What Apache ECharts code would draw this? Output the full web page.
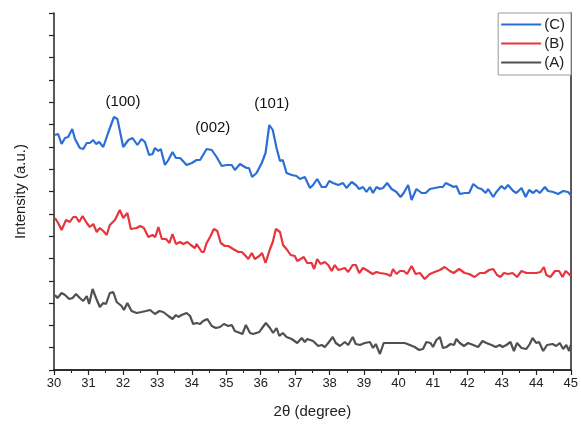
<!DOCTYPE html>
<html><head><meta charset="utf-8">
<script src="https://cdn.jsdelivr.net/npm/echarts@6/dist/echarts.min.js"></script>
<style>html,body{margin:0;padding:0;background:#fff}#c{width:581px;height:428px}</style>
</head><body><div id="c"></div>
<script>
// 2θ (degree) values and intensities (a.u.)
const xC = [30.03,30.12,30.22,30.32,30.41,30.53,30.61,30.75,30.85,30.95,31.04,31.14,31.22,31.31,31.43,31.58,31.74,31.84,32.01,32.16,32.28,32.42,32.54,32.64,32.76,32.86,32.93,33.03,33.10,33.22,33.32,33.44,33.54,33.66,33.85,34.00,34.14,34.24,34.43,34.58,34.72,34.87,35.01,35.16,35.25,35.40,35.49,35.59,35.66,35.75,35.88,36.03,36.14,36.25,36.35,36.46,36.56,36.64,36.75,36.90,37.04,37.14,37.28,37.43,37.52,37.64,37.77,37.89,37.99,38.10,38.25,38.39,38.49,38.64,38.76,38.86,38.97,39.07,39.17,39.26,39.36,39.46,39.55,39.67,39.80,39.94,40.06,40.15,40.28,40.38,40.52,40.67,40.79,40.91,41.05,41.20,41.29,41.37,41.49,41.60,41.68,41.78,41.92,42.05,42.17,42.31,42.41,42.53,42.60,42.75,42.84,42.99,43.08,43.18,43.33,43.42,43.57,43.69,43.79,43.91,44.00,44.10,44.25,44.34,44.49,44.63,44.78,44.92,45.00];
const yC = [235,236,226,232,233,241,231,222,221,227,227,230,226,228,223,238,253,251,223,230,232,225,231,228,215,216,222,219,221,205,210,218,212,212,205,207,210,210,221,220,213,204,205,205,200,206,204,202,202,193,197,207,217,245,240,222,209,210,197,195,194,191,193,182,185,191,183,183,189,187,185,187,182,188,185,181,183,178,183,177,183,181,182,187,181,178,173,177,185,170,181,177,177,181,182,183,183,187,185,183,184,176,177,177,186,182,181,177,181,173,178,184,181,185,179,177,182,173,180,177,180,177,183,179,178,176,179,178,175];
const xB = [30.03,30.12,30.22,30.35,30.46,30.56,30.64,30.73,30.83,30.95,31.04,31.14,31.24,31.33,31.43,31.53,31.62,31.77,31.91,32.01,32.13,32.23,32.40,32.50,32.61,32.74,32.86,32.94,33.03,33.13,33.25,33.35,33.44,33.54,33.66,33.75,33.87,33.97,34.09,34.14,34.29,34.35,34.43,34.53,34.64,34.74,34.84,34.96,35.06,35.20,35.35,35.45,35.54,35.64,35.74,35.83,35.96,36.04,36.14,36.27,36.35,36.44,36.56,36.65,36.77,36.87,36.99,37.06,37.16,37.25,37.35,37.48,37.55,37.64,37.74,37.86,37.96,38.06,38.15,38.25,38.35,38.44,38.54,38.67,38.76,38.86,38.97,39.07,39.25,39.36,39.46,39.65,39.77,39.84,39.94,40.04,40.15,40.25,40.38,40.50,40.62,40.76,40.91,41.05,41.20,41.34,41.49,41.60,41.76,41.92,42.05,42.21,42.36,42.50,42.63,42.75,42.86,42.96,43.06,43.18,43.31,43.44,43.57,43.71,43.86,44.00,44.12,44.22,44.29,44.41,44.54,44.66,44.76,44.85,44.95,45.00];
const yB = [152,147,140,150,148,153,153,148,154,147,143,146,138,142,139,135,145,150,160,152,157,141,142,144,142,133,135,133,143,131,131,127,136,126,128,126,128,125,122,126,118,118,127,133,141,139,127,124,124,121,118,118,115,111,117,111,114,117,107,121,128,141,138,125,120,115,114,109,111,113,107,107,101,111,106,108,105,99,105,100,101,102,98,105,105,97,102,100,96,98,97,96,94,101,96,99,99,96,104,96,97,91,96,98,100,103,99,97,101,97,96,93,97,97,100,101,95,93,97,96,97,93,99,97,97,97,98,103,95,93,99,99,93,99,96,94];
const xA = [30.03,30.10,30.22,30.32,30.44,30.54,30.64,30.75,30.85,30.95,31.02,31.12,31.22,31.33,31.43,31.51,31.62,31.72,31.82,31.96,32.03,32.13,32.25,32.40,32.54,32.67,32.79,32.83,32.93,33.06,33.17,33.32,33.44,33.54,33.61,33.70,33.85,33.95,34.04,34.14,34.24,34.33,34.45,34.58,34.70,34.82,34.93,35.06,35.16,35.25,35.40,35.47,35.57,35.69,35.78,35.96,36.02,36.15,36.27,36.36,36.46,36.54,36.64,36.75,36.90,37.06,37.19,37.28,37.35,37.52,37.67,37.77,37.86,37.96,38.09,38.18,38.30,38.44,38.54,38.67,38.76,38.88,39.02,39.17,39.26,39.34,39.46,39.57,39.70,39.84,39.99,40.18,40.33,40.47,40.60,40.71,40.81,40.93,41.00,41.10,41.20,41.29,41.39,41.51,41.61,41.68,41.78,41.90,42.02,42.17,42.31,42.44,42.55,42.70,42.82,42.94,43.02,43.13,43.25,43.35,43.44,43.57,43.71,43.81,43.89,44.00,44.08,44.20,44.31,44.47,44.58,44.68,44.78,44.87,44.95,45.00];
const yA = [75,72,77,75,71,72,76,72,69,74,66,81,72,63,67,66,77,78,68,64,60,67,59,57,58,59,60,61,56,59,58,54,51,55,53,55,57,54,46,47,46,49,51,44,42,43,46,44,45,39,37,36,45,37,36,38,41,47,42,37,42,34,37,33,31,27,32,28,31,29,24,25,23,27,33,27,24,28,25,33,26,25,27,28,22,26,16,27,27,27,27,27,25,23,20,21,28,27,23,30,33,22,23,26,25,31,27,24,27,25,23,29,27,25,23,25,23,25,28,19,27,22,21,26,32,27,28,19,25,26,24,27,21,25,19,25];
const seriesNames = ['(C)','(B)','(A)'];
const xTickLabels = [30,31,32,33,34,35,36,37,38,39,40,41,42,43,44,45];
const peakLabels = ['(100)','(002)','(101)'];
const peakX = [32.0, 34.61, 36.32];
const peakY = [268, 242, 266];

const yMax = 357;
const yTicks = [];
for (let k = 0; k <= 16; k++) yTicks.push(k * yMax / 16);
const zip = (xs, ys) => xs.map((x, i) => [x, ys[i]]);
const font = 'Liberation Sans, Arial, sans-serif';

const chart = echarts.init(document.getElementById('c'));
chart.setOption({
  animation: false,
  backgroundColor: '#fff',
  grid: {left: 54, right: 10, top: 13, bottom: 58},
  legend: {
    data: seriesNames, orient: 'vertical', right: 10, top: 13,
    icon: 'rect', itemWidth: 40, itemHeight: 2, itemGap: 2,
    backgroundColor: '#fff', borderColor: '#999', borderWidth: 1,
    padding: [3, 6, 4, 3],
    textStyle: {fontFamily: font, fontSize: 15, lineHeight: 17, color: '#222', padding: [0,0,0,-2]}
  },
  xAxis: [{
    type: 'value', min: 30, max: 45, interval: 1,
    axisLine: {lineStyle: {color: '#222', width: 1.5}},
    axisTick: {show: true, length: 5, lineStyle: {color: '#222', width: 1.2}},
    minorTick: {show: true, splitNumber: 2, length: 3, lineStyle: {color: '#222'}},
    splitLine: {show: false},
    axisLabel: {fontFamily: font, fontSize: 13, color: '#222', margin: 7,
      customValues: xTickLabels},
    name: '2θ (degree)', nameLocation: 'middle', nameGap: 34,
    nameTextStyle: {fontFamily: font, fontSize: 15, color: '#222'}
  }, {
    type: 'value', min: 30, max: 45, position: 'top',
    axisLine: {show: true, lineStyle: {color: '#222', width: 1.5}},
    axisTick: {show: false}, axisLabel: {show: false}, splitLine: {show: false}
  }],
  yAxis: [{
    type: 'value', min: 0, max: yMax,
    axisLine: {show: true, lineStyle: {color: '#222', width: 1.5}},
    axisTick: {show: true, length: 5, customValues: yTicks, lineStyle: {color: '#222', width: 1.2}},
    axisLabel: {show: false},
    splitLine: {show: false},
    name: 'Intensity (a.u.)', nameLocation: 'middle', nameGap: 26,
    nameTextStyle: {fontFamily: font, fontSize: 15, color: '#222'}
  }, {
    type: 'value', min: 0, max: yMax, position: 'right',
    axisLine: {show: true, lineStyle: {color: '#222', width: 1.5}},
    axisTick: {show: false}, axisLabel: {show: false}, splitLine: {show: false}
  }],
  series: [
    {name: seriesNames[0], type: 'line', data: zip(xC, yC), symbol: 'none',
      lineStyle: {color: '#2b6fd6', width: 2.2}, itemStyle: {color: '#2b6fd6'},
      markPoint: {symbol: 'circle', symbolSize: 0,
        label: {show: true, formatter: p => p.name, fontFamily: font, fontSize: 15, color: '#111'},
        data: peakLabels.map((n, i) => ({name: n, coord: [peakX[i], peakY[i]]}))}},
    {name: seriesNames[1], type: 'line', data: zip(xB, yB), symbol: 'none',
      lineStyle: {color: '#e8343c', width: 2.2}, itemStyle: {color: '#e8343c'}},
    {name: seriesNames[2], type: 'line', data: zip(xA, yA), symbol: 'none',
      lineStyle: {color: '#505050', width: 2.2}, itemStyle: {color: '#505050'}}
  ]
});
</script></body></html>
